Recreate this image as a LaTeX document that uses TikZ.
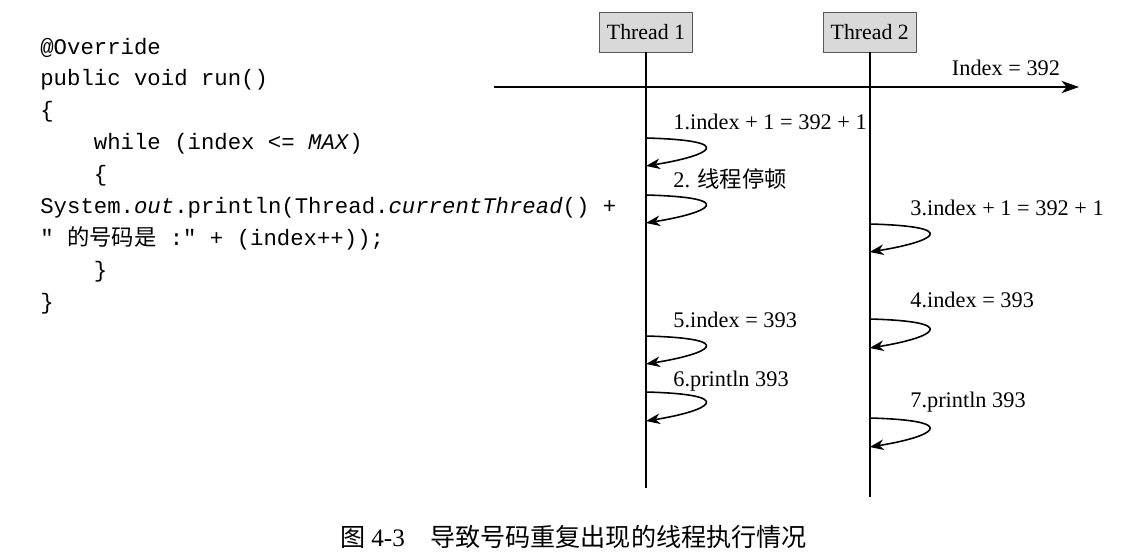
\documentclass[tikz,border=0pt]{standalone}
\usepackage{fontspec}
\setmainfont{Liberation Serif}
\setmonofont{Liberation Mono}
\newfontfamily\cjk{Noto Sans CJK SC}
\usetikzlibrary{arrows.meta,positioning}

\newcommand{\ind}{\hspace*{2.4em}}

\begin{document}
\begin{tikzpicture}[
    thread/.style={draw=black!65, fill=black!15, minimum width=1.86cm, minimum height=0.8cm, inner sep=2pt, font=\fontsize{12.4}{14}\selectfont},
    code/.style={anchor=base west, inner sep=0pt, font=\fontsize{12.7}{15}\selectfont\ttfamily},
    lbl/.style={anchor=base west, inner sep=0pt, font=\fontsize{12.7}{14}\selectfont},
    life/.style={line width=0.9pt},
    selfarr/.style={-{Stealth[length=8pt,width=6pt,inset=2.5pt]}, line width=0.9pt},
    timearr/.style={-{Stealth[length=10pt,width=7pt,inset=3pt]}, line width=0.9pt}
  ]
    \useasboundingbox (0,0) rectangle (22.58,-11.1);

    % code listing
    \foreach \txt [count=\i] in {
        {@Override},
        {public void run()},
        {\{},
        {\ind while (index <= \textit{MAX})},
        {\ind\{},
        {System.\textit{out}.println(Thread.\textit{currentThread}() +},
        {" {\cjk 的号码是} :" + (index++));},
        {\ind\}},
        {\}}}
      \node[code] (c\i) at (0.8,{-1.08-0.638*(\i-1)}) {\txt};

    % threads
    \node[thread] (t1) at (12.92,-0.64) {Thread 1};
    \node[thread, right=2.6cm of t1] (t2) {Thread 2};
    \coordinate (e1) at (t1.south |- 0,-9.76);
    \coordinate (e2) at (t2.south |- 0,-9.94);
    \draw[life] (t1) -- (e1);
    \draw[life] (t2) -- (e2);

    % shared index
    \coordinate (ts) at (9.88,-1.74);
    \coordinate (te) at (21.58,-1.74);
    \draw[timearr] (ts) -- (te);
    \node[font=\fontsize{12.7}{14}\selectfont] (idx) at (20.12,-1.36) {Index = 392};

    % steps
    \node[lbl] (s1) at (13.46,-2.58) {1.index + 1 = 392 + 1};
    \node[lbl] (s2) at (13.46,-3.74) {2. {\cjk 线程停顿}};
    \node[lbl] (s3) at (18.2,-4.30) {3.index + 1 = 392 + 1};
    \node[lbl] (s4) at (18.2,-6.14) {4.index = 393};
    \node[lbl] (s5) at (13.46,-6.54) {5.index = 393};
    \node[lbl] (s6) at (13.46,-7.72) {6.println 393};
    \node[lbl] (s7) at (18.2,-8.14) {7.println 393};

    \draw[selfarr] (t1.south |- 0,-2.76) .. controls +(1.9,-0.05) and +(1.25,0.2) .. (t1.south |- 0,-3.32);
    \draw[selfarr] (t1.south |- 0,-3.90) .. controls +(1.9,-0.05) and +(1.25,0.2) .. (t1.south |- 0,-4.46);
    \draw[selfarr] (t2.south |- 0,-4.48) .. controls +(1.9,-0.05) and +(1.25,0.2) .. (t2.south |- 0,-5.04);
    \draw[selfarr] (t2.south |- 0,-6.38) .. controls +(1.9,-0.05) and +(1.25,0.2) .. (t2.south |- 0,-6.96);
    \draw[selfarr] (t1.south |- 0,-6.72) .. controls +(1.9,-0.05) and +(1.25,0.2) .. (t1.south |- 0,-7.28);
    \draw[selfarr] (t1.south |- 0,-7.84) .. controls +(1.9,-0.05) and +(1.25,0.2) .. (t1.south |- 0,-8.42);
    \draw[selfarr] (t2.south |- 0,-8.36) .. controls +(1.9,-0.05) and +(1.25,0.2) .. (t2.south |- 0,-8.94);

    % caption
    \node[font=\fontsize{14.3}{16}\selectfont] (cap) at (11.47,-10.74) {{\cjk 图} 4-3\quad{\cjk 导致号码重复出现的线程执行情况}};
\end{tikzpicture}
\end{document}
